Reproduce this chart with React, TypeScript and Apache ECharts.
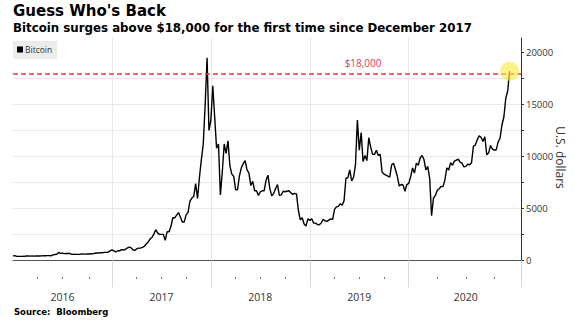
import React, { useEffect, useRef } from 'react';
import * as echarts from 'echarts';

const TITLE = "Guess Who's Back";
const SUBTITLE = 'Bitcoin surges above $18,000 for the first time since December 2017';
const SOURCE = 'Source:  Bloomberg';
const SERIES_NAME = 'Bitcoin';
const Y_AXIS_NAME = 'U.S. dollars';
const THRESHOLD = 18000;
const THRESHOLD_LABEL = '$18,000';
const THRESHOLD_LABEL_DATE = '2019-07-16';
const Y_MIN = -1600;
const Y_MAX = 21400;
const Y_LABEL_VALUES = [0, 5000, 10000, 15000, 20000];
const Y_TICK_VALUES = [0, 2500, 5000, 7500, 10000, 12500, 15000, 17500, 20000];

// weekly samples from Jan 1 of each year (USD)
const PRICES_2016 = [
  430, 455, 385, 385, 380, 385, 390, 420, 430, 410, 415, 410, 415, 420, 420, 430, 450, 450, 455, 455,
  445, 530, 570, 580, 760, 670, 680, 650, 665, 655, 655, 580, 585, 575, 575, 575, 625, 608, 600, 610,
  615, 640, 630, 690, 705, 715, 750, 740, 765, 770, 785, 920,
];
const PRICES_2017 = [
  1000, 910, 820, 925, 920, 1030, 1000, 1050, 1180, 1270, 1230, 1020, 960, 1100, 1180, 1180, 1250, 1350,
  1580, 1750, 2050, 2200, 2520, 2950, 2650, 2500, 2500, 2500, 1930, 2750, 2750, 3250, 4100, 4080, 4350,
  4600, 4150, 3700, 3700, 4400, 4600, 5700, 6000, 6150, 7400, 5950, 8000, 9700, 11200, 15000, 19500, 12500,
];
const PRICES_2018 = [
  13500, 16800, 13800, 10800, 11200, 6300, 8500, 11200, 10300, 11500, 9100, 8300, 8100, 6800, 6800, 8100,
  8900, 9300, 9600, 8700, 8400, 7200, 7600, 6700, 6700, 6250, 6600, 6700, 6700, 7700, 8200, 6900, 6200,
  6450, 6900, 7300, 6250, 6300, 6650, 6600, 6650, 6700, 6500, 6350, 6450, 6400, 4800, 3900, 4100, 3500,
  3300, 4000,
];
const PRICES_2019 = [
  3850, 4000, 3600, 3580, 3450, 3420, 3600, 3950, 3800, 3750, 3880, 4000, 3950, 4900, 5150, 5200, 5450,
  5300, 5750, 7900, 7950, 8700, 7650, 8000, 9200, 13500, 10600, 12300, 9500, 10100, 9600, 11800, 10900,
  10200, 10200, 10600, 10100, 10200, 8500, 8300, 8200, 8100, 8000, 9200, 9350, 8750, 8100, 7150, 7300,
  7250, 6650, 7300,
];
// samples every 6 days from Jan 5, 2020 to Nov 18, 2020 (USD)
const PRICES_2020 = [
  7400, 8050, 8900, 8400, 9350, 9150, 9850, 10100, 9700, 8700, 9050, 7900, 4300, 6000, 6250, 6750, 6900,
  7100, 7100, 7750, 8900, 8700, 9400, 9150, 9550, 9650, 9750, 9450, 9350, 9000, 9050, 9250, 9200, 9400,
  11000, 11100, 11600, 12000, 11850, 11450, 11900, 10150, 10350, 11050, 10700, 10600, 10650, 11400, 11750,
  13050, 13800, 15600, 16300, 18200,
];
const PADDING_STEPS = 6;

function seq(startISO: string, stepDays: number, n: number): string[] {
  const t0 = Date.parse(startISO + 'T00:00:00Z');
  const out: string[] = [];
  for (let i = 0; i < n; i++) out.push(new Date(t0 + i * stepDays * 86400000).toISOString().slice(0, 10));
  return out;
}

const DATES = [
  ...seq('2016-01-01', 7, PRICES_2016.length),
  ...seq('2017-01-01', 7, PRICES_2017.length),
  ...seq('2018-01-01', 7, PRICES_2018.length),
  ...seq('2019-01-01', 7, PRICES_2019.length),
  ...seq('2020-01-05', 6, PRICES_2020.length + PADDING_STEPS),
];
const VALUES = [...PRICES_2016, ...PRICES_2017, ...PRICES_2018, ...PRICES_2019, ...PRICES_2020];
const LAST_INDEX = VALUES.length - 1;

const yearOf = (i: number) => DATES[i].slice(0, 4);
const monthOf = (i: number) => parseInt(DATES[i].slice(5, 7), 10);
const isYearStart = (i: number) => i > 0 && yearOf(i) !== yearOf(i - 1);
const isYearTick = (i: number) => isYearStart(i) || i === DATES.length - 1;
const isQuarterStart = (i: number) =>
  i > 0 && !isYearStart(i) && Math.floor((monthOf(i) - 1) / 3) !== Math.floor((monthOf(i - 1) - 1) / 3);
const isLabelPos = (i: number) => i > 0 && monthOf(i) === 7 && monthOf(i - 1) === 6;

const FONT = 'Open Sans';
const RED = '#e2385a';

export default function App() {
  const ref = useRef<HTMLDivElement>(null);
  useEffect(() => {
    if (!ref.current) return;
    const chart = echarts.init(ref.current, undefined, { renderer: 'svg' });
    chart.setOption({
      animation: false,
      backgroundColor: '#ffffff',
      textStyle: { fontFamily: FONT },
      title: [
        {
          text: TITLE, left: 13, top: 3, padding: 0,
          textStyle: { fontFamily: 'DejaVu Sans', fontWeight: 'bold', fontSize: 15, color: '#000' },
        },
        {
          text: SUBTITLE, left: 13, top: 21.5, padding: 0,
          textStyle: { fontFamily: 'DejaVu Sans', fontWeight: 'bold', fontSize: 11.8, color: '#000' },
        },
        {
          text: SOURCE, left: 14, top: 307, padding: 0,
          textStyle: { fontFamily: 'DejaVu Sans', fontWeight: 'bold', fontSize: 8.5, color: '#000' },
        },
      ],
      legend: {
        data: [{ name: SERIES_NAME, icon: 'rect' }],
        left: 13, top: 41,
        backgroundColor: '#ececec',
        padding: [4, 5, 5, 4],
        itemWidth: 6, itemHeight: 6,
        textStyle: { fontSize: 8.5, color: '#333', fontFamily: FONT, padding: [0, 0, 0, -3] },
        selectedMode: false,
      },
      grid: { left: 13, right: 53, top: 38, bottom: 45, containLabel: false, outerBoundsMode: 'none' },
      xAxis: [
        {
          type: 'category', data: DATES, boundaryGap: false,
          axisLine: { show: true, lineStyle: { color: '#555', width: 1 } },
          axisTick: { show: true, interval: (i: number) => isYearTick(i), length: 27, lineStyle: { color: '#d8d8d8' } },
          axisLabel: {
            show: true, interval: (i: number) => isLabelPos(i), formatter: (v: string) => v.slice(0, 4),
            margin: 14, fontSize: 10.5, color: '#333', fontFamily: FONT,
          },
          splitLine: { show: true, interval: (i: number) => isYearStart(i), lineStyle: { color: '#e8e8e8', width: 1 } },
        },
        {
          type: 'category', data: DATES, boundaryGap: false, position: 'bottom',
          axisLine: { show: false },
          axisTick: { show: true, interval: (i: number) => isQuarterStart(i), length: 2, lineStyle: { color: '#777' } },
          axisLabel: { show: false },
          splitLine: { show: false },
        },
      ],
      yAxis: {
        type: 'value', position: 'right', min: Y_MIN, max: Y_MAX, splitNumber: 5,
        name: Y_AXIS_NAME, nameLocation: 'middle', nameRotate: -90, nameGap: 33, nameMoveOverlap: false,
        nameTextStyle: { fontSize: 12, color: '#333', fontFamily: FONT },
        axisLine: { show: true, lineStyle: { color: '#333', width: 1 } },
        axisTick: { show: true, length: 3, customValues: Y_TICK_VALUES, lineStyle: { color: '#333' } },
        axisLabel: {
          show: true, customValues: Y_LABEL_VALUES, margin: 5, fontSize: 9.5, color: '#333', fontFamily: FONT,
          formatter: (v: number) => (v % 5000 === 0 ? String(v) : ''),
        },
        splitLine: { show: true, showMinLine: false, showMaxLine: false, lineStyle: { color: '#e8e8e8', width: 1 } },
      },
      series: [
        {
          name: SERIES_NAME, type: 'line', data: VALUES, xAxisIndex: 0,
          showSymbol: false, symbol: 'none',
          lineStyle: { color: '#000', width: 1.4 },
          itemStyle: { color: '#000' },
          z: 3,
          markLine: {
            silent: true, symbol: 'none', animation: false,
            data: [{ yAxis: THRESHOLD }],
            lineStyle: { color: RED, type: [5, 3], width: 1.5 },
            label: { show: false },
          },
          markPoint: {
            silent: true, animation: false,
            data: [
              {
                coord: [DATES[LAST_INDEX], VALUES[LAST_INDEX]], symbol: 'circle', symbolSize: 19,
                itemStyle: { color: 'rgba(250, 234, 70, 0.65)' }, label: { show: false },
              },
              {
                coord: [THRESHOLD_LABEL_DATE, THRESHOLD], symbol: 'circle', symbolSize: 0,
                itemStyle: { color: 'rgba(0,0,0,0)' },
                label: { show: true, position: 'top', distance: 5, formatter: THRESHOLD_LABEL, color: RED, fontSize: 10, fontFamily: FONT },
              },
            ],
          },
        },
      ],
    });
    return () => chart.dispose();
  }, []);
  return <div ref={ref} style={{ position: 'absolute', left: 0, top: 0, width: 574, height: 322 }} />;
}
